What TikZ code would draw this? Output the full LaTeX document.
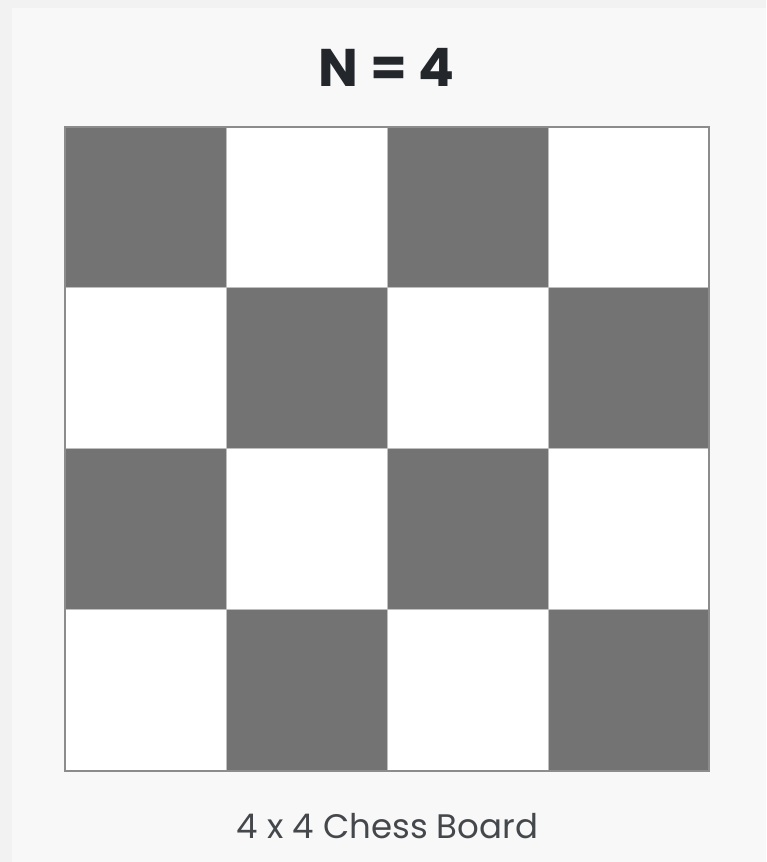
\documentclass[tikz,border=0pt]{standalone}
\usepackage{fontspec}
\setmainfont{Poppins}
\definecolor{pagebg}{HTML}{F2F2F2}
\definecolor{panelbg}{HTML}{F8F8F8}
\definecolor{darksq}{HTML}{737373}
\definecolor{ink}{HTML}{23272B}
\tikzset{
  cell/.style={draw=black!25,line width=1pt},
  rim/.style={draw=black!45,line width=1.2pt},
}
\begin{document}
\begin{tikzpicture}[x=1pt,y=1pt]
\useasboundingbox (0,0) rectangle (766,862);
\fill[pagebg] (0,0) rectangle (766,862);
\fill[panelbg] (12,0) rectangle (766,854);
% board, top left square is dark
 \foreach \row in {0,1,2,3}
  \foreach \col in {0,1,2,3} {
    \pgfmathtruncatemacro\odd{mod(\row+\col,2)}
    \ifnum\odd=0 \def\sqcol{darksq}\else\def\sqcol{white}\fi
    \draw[cell,fill=\sqcol] (65+161*\col,735-161*\row) rectangle ++(161,-161);
  }
\draw[rim] (65,91) rectangle (709,735);
\node[text=ink,font=\fontsize{53}{60}\selectfont\bfseries] (title) at (386.5,795) {N = 4};
\node[text=ink!85,font=\fontsize{34}{40}\selectfont] (caption) at (387.5,36) {4 x 4 Chess Board};
\end{tikzpicture}
\end{document}
